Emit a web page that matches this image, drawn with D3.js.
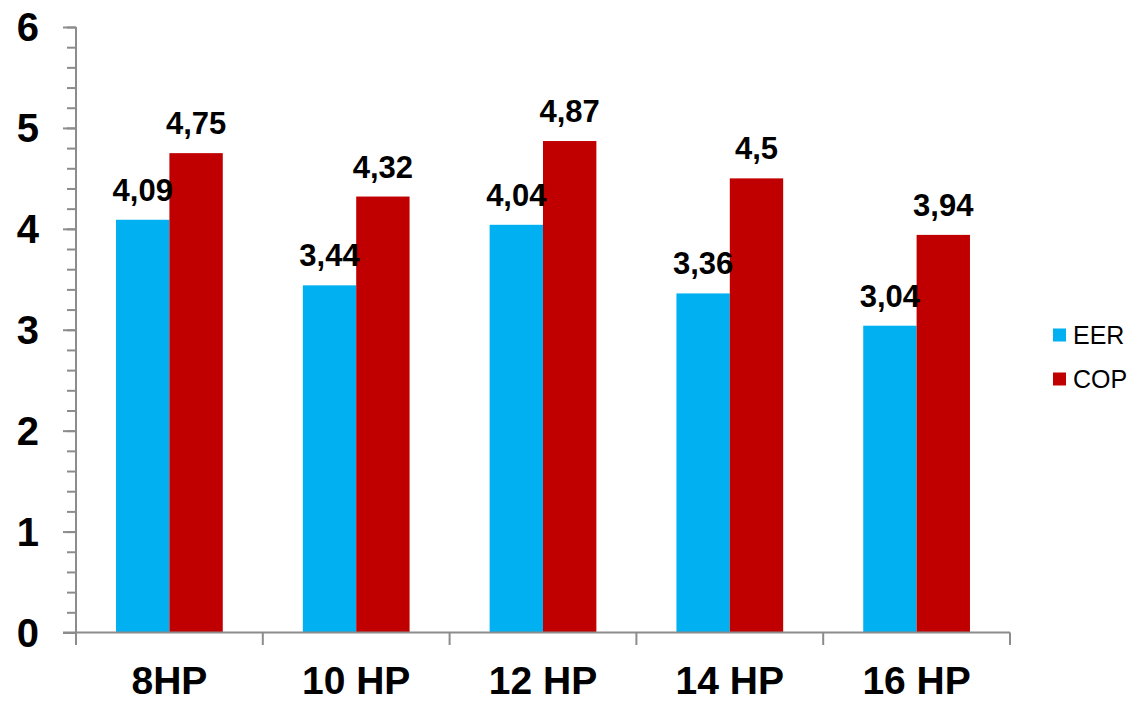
<!DOCTYPE html>
<html>
<head>
<meta charset="utf-8">
<script src="https://cdn.jsdelivr.net/npm/d3@7"></script>
<style>
  html, body { margin: 0; padding: 0; background: #fff; }
  svg { display: block; font-family: "Liberation Sans", Arial, sans-serif; }
</style>
</head>
<body>
<svg id="chart" width="1130" height="702"></svg>
<script>
const categories = ["8HP", "10 HP", "12 HP", "14 HP", "16 HP"];
const seriesNames = ["EER", "COP"];
const eerValues = [4.09, 3.44, 4.04, 3.36, 3.04];
const copValues = [4.75, 4.32, 4.87, 4.5, 3.94];
const yTickLabels = [0, 1, 2, 3, 4, 5, 6];
const colors = ["#00B0F0", "#C00000"];

const seriesValues = [eerValues, copValues];
const svg = d3.select("#chart");

const x0 = d3.scaleBand().domain(categories).range([76, 1010]).paddingInner(0).paddingOuter(0);
const x1 = d3.scaleBand().domain(seriesNames).range([0, x0.bandwidth()]).paddingInner(0).paddingOuter(0.75);
const y = d3.scaleLinear().domain([0, 6]).range([632.5, 27]);

const axisColor = "#8c8c8c";

// minor ticks
const minorVals = d3.range(0, 31).map(i => i / 5);
const minor = svg.append("g").attr("transform", "translate(76,0)")
  .call(d3.axisLeft(y).tickValues(minorVals).tickSize(9).tickFormat(""));
const major = svg.append("g").attr("transform", "translate(76,0)")
  .call(d3.axisLeft(y).tickValues(yTickLabels).tickSize(13).tickFormat(""));
[minor, major].forEach(g => {
  g.select(".domain").remove();
  g.selectAll("line").attr("stroke", axisColor).attr("stroke-width", 2);
});

// bars
const groups = svg.append("g").selectAll("g")
  .data(categories).join("g")
  .attr("transform", d => `translate(${x0(d)},0)`);
groups.selectAll("rect")
  .data((d, i) => seriesNames.map((s, j) => ({ s, j, v: seriesValues[j][i] })))
  .join("rect")
  .attr("x", d => x1(d.s))
  .attr("width", x1.bandwidth())
  .attr("y", d => y(d.v))
  .attr("height", d => y(0) - y(d.v))
  .attr("fill", d => colors[d.j]);

// value labels
groups.selectAll("text")
  .data((d, i) => seriesNames.map((s, j) => ({ s, j, v: seriesValues[j][i] })))
  .join("text")
  .attr("x", d => x1(d.s) + x1.bandwidth() / 2)
  .attr("y", d => y(d.v) - 19)
  .attr("text-anchor", "middle")
  .attr("font-size", 31)
  .attr("font-weight", "bold")
  .attr("fill", "#000")
  .text(d => String(d.v).replace(".", ","));

// y axis line
svg.append("line")
  .attr("x1", 76).attr("x2", 76)
  .attr("y1", y(6)).attr("y2", 645)
  .attr("stroke", axisColor).attr("stroke-width", 2);

// x axis line
svg.append("line")
  .attr("x1", 63).attr("x2", 1010)
  .attr("y1", y(0)).attr("y2", y(0))
  .attr("stroke", axisColor).attr("stroke-width", 2);

// category boundary ticks
const boundaries = categories.map(c => x0(c)).concat([x0.range()[1]]);
svg.append("g").selectAll("line").data(boundaries).join("line")
  .attr("x1", d => d).attr("x2", d => d)
  .attr("y1", y(0)).attr("y2", 645)
  .attr("stroke", axisColor).attr("stroke-width", 2);

// y tick labels
svg.append("g").selectAll("text").data(yTickLabels).join("text")
  .attr("x", 39)
  .attr("y", d => y(d))
  .attr("dy", "0.36em")
  .attr("text-anchor", "end")
  .attr("font-size", 40)
  .attr("font-weight", "bold")
  .attr("fill", "#000")
  .text(d => d);

// x labels
svg.append("g").selectAll("text").data(categories).join("text")
  .attr("x", d => x0(d) + x0.bandwidth() / 2)
  .attr("y", 694)
  .attr("text-anchor", "middle")
  .attr("font-size", 39)
  .attr("font-weight", "bold")
  .attr("fill", "#000")
  .text(d => d);

// legend
const legend = svg.append("g").selectAll("g").data(seriesNames).join("g")
  .attr("transform", (d, i) => `translate(1053,${335 + i * 44})`);
legend.append("rect")
  .attr("x", 0).attr("y", -6.5).attr("width", 13).attr("height", 13)
  .attr("fill", (d, i) => colors[i]);
legend.append("text")
  .attr("x", 20).attr("y", 0).attr("dy", "0.36em")
  .attr("font-size", 25)
  .attr("fill", "#000")
  .text(d => d);
</script>
</body>
</html>
